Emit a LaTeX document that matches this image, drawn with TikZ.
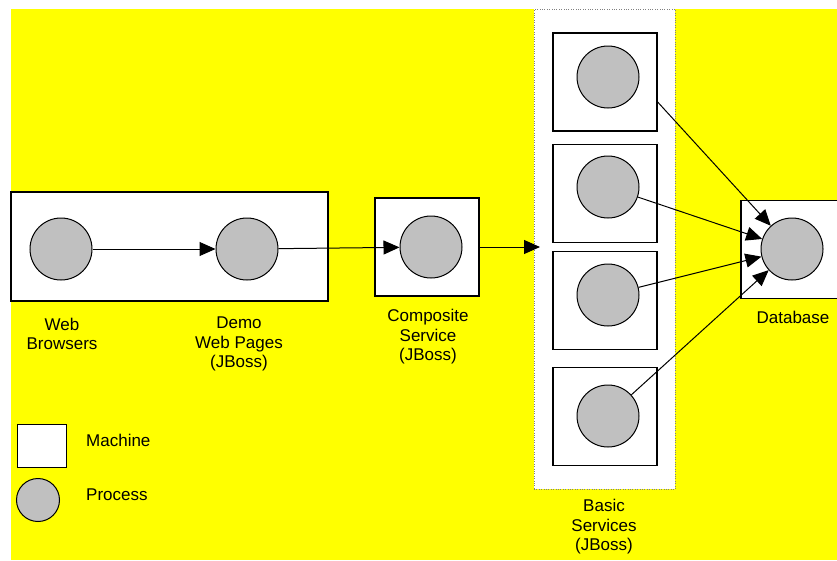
\documentclass[tikz,border=0pt]{standalone}
\usepackage{fontspec}
\setmainfont{Liberation Sans}
\usetikzlibrary{positioning,arrows.meta}
\definecolor{procgray}{RGB}{192,192,192}
\definecolor{bgyellow}{RGB}{255,255,0}

\begin{document}
\begin{tikzpicture}[x=1pt,y=-1pt,
    machine/.style={draw, fill=white, line width=1.3pt, inner sep=0, minimum width=104, minimum height=98},
    process/.style={circle, draw, fill=procgray, line width=1pt, inner sep=0, minimum size=62},
    lbl/.style={align=center, inner sep=0, font=\fontsize{17}{19.5}\selectfont},
    arr/.style={-{Triangle[length=16pt,width=14pt]}, line width=1pt}]
    \useasboundingbox (0,0) rectangle (837,560);
    \fill [bgyellow] (11,9) rectangle (837,560);

    % basic services container
    \node (bs) [draw=gray, dotted, fill=white, inner sep=0, minimum width=141, minimum height=480] at (604.5,249) {};

    % machines
    \node (wbm) [machine, minimum width=317, minimum height=109] at (169.5,246.5) {};
    \node (csm) [machine] at (427,247) {};
    \node (sm1) [machine] at (605,82) {};
    \node (sm2) [machine] at (605,193.5) {};
    \node (sm3) [machine] at (605,300.5) {};
    \node (sm4) [machine] at (605,416.5) {};
    \node (dbm) [machine] at (793,249.5) {};

    % processes
    \node (wb)  [process] at (61,249) {};
    \node (dwp) [process] at (247,249) {};
    \node (cs)  [process] at (431,247) {};
    \node (s1)  [process] at (608,77) {};
    \node (s2)  [process] at (608,187) {};
    \node (s3)  [process] at (608,295) {};
    \node (s4)  [process] at (608,416) {};
    \node (db)  [process] at (792,249) {};

    % labels
    \node (wbl)  [lbl] at (62,334) {Web\\Browsers};
    \node (dwpl) [lbl] at (239,344) {Demo\\Web Pages\\(JBoss)};
    \node (csl)  [lbl] at (428,337) {Composite\\Service\\(JBoss)};
    \node (bsl)  [lbl] at (604,527) {Basic\\Services\\(JBoss)};
    \node (dbl)  [lbl] at (793,317) {Database};

    % legend
    \node (lm) [machine, line width=1pt, minimum width=49, minimum height=43] at (41.5,445.5) {};
    \node (lp) [process, minimum size=43] at (38,500) {};
    \node (lml) [lbl, anchor=west] at (86,440) {Machine};
    \node (lpl) [lbl, anchor=west] at (86,495) {Process};

    % left to right arrows
    \coordinate (bsin) at (540,247);
    \draw [arr] (wb) -- (dwp);
    \draw [arr] (dwp) -- (cs);
    \draw [arr] (csm.east) -- (bsin);

    % basic services to database
    \draw [arr] ([yshift=-20pt]sm1.east) -- (db);
    \draw [arr] (s2) -- (db);
    \draw [arr] (s3) -- (db);
    \draw [arr] (s4) -- (db);
\end{tikzpicture}
\end{document}
